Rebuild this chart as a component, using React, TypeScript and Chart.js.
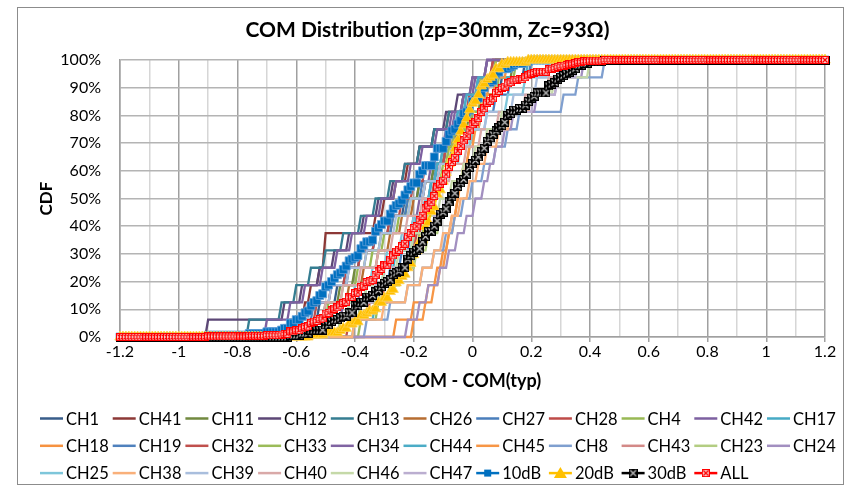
import React, { useEffect, useRef } from "react";
import { Chart, registerables } from "chart.js";

Chart.register(...registerables);

const TITLE = "COM Distribution (zp=30mm, Zc=93Ω)";
const X_TITLE = "COM - COM(typ)";
const Y_TITLE = "CDF";
const X_MIN = -1.2;
const X_MAX = 1.2;
const X_GRID_STEP = 0.01;

// ---- per-channel COM deltas (16 samples each) ----
const CH1 = [-0.6, -0.52, -0.46, -0.42, -0.38, -0.33, -0.28, -0.23, -0.18, -0.13, -0.09, -0.05, 0.0, 0.05, 0.1, 0.18];
const CH41 = [-0.62, -0.57, -0.55, -0.52, -0.5, -0.5, -0.33, -0.3, -0.26, -0.22, -0.18, -0.13, -0.08, -0.03, 0.02, 0.07];
const CH11 = [-0.56, -0.5, -0.45, -0.4, -0.36, -0.31, -0.27, -0.22, -0.18, -0.13, -0.09, -0.05, -0.01, 0.03, 0.08, 0.14];
const CH12 = [-0.9, -0.64, -0.58, -0.52, -0.47, -0.42, -0.37, -0.32, -0.27, -0.23, -0.18, -0.13, -0.09, -0.05, 0.0, 0.05];
const CH13 = [-0.76, -0.65, -0.6, -0.55, -0.5, -0.44, -0.38, -0.33, -0.28, -0.23, -0.18, -0.13, -0.08, -0.03, 0.03, 0.1];
const CH26 = [-0.54, -0.47, -0.42, -0.37, -0.32, -0.28, -0.24, -0.2, -0.16, -0.12, -0.09, -0.06, -0.03, 0.0, 0.04, 0.08];
const CH27 = [-0.62, -0.54, -0.48, -0.43, -0.38, -0.33, -0.27, -0.22, -0.17, -0.12, -0.07, -0.02, 0.03, 0.08, 0.13, 0.2];
const CH28 = [-0.58, -0.53, -0.48, -0.43, -0.38, -0.33, -0.28, -0.24, -0.2, -0.16, -0.12, -0.08, -0.04, 0.0, 0.04, 0.08];
const CH4 = [-0.55, -0.49, -0.44, -0.39, -0.34, -0.3, -0.25, -0.21, -0.16, -0.12, -0.08, -0.04, 0.0, 0.04, 0.09, 0.15];
const CH42 = [-0.7, -0.62, -0.57, -0.51, -0.46, -0.41, -0.36, -0.31, -0.26, -0.21, -0.17, -0.12, -0.07, -0.03, 0.01, 0.05];
const CH17 = [-0.5, -0.42, -0.36, -0.3, -0.26, -0.22, -0.19, -0.16, -0.14, -0.12, -0.1, -0.07, -0.05, -0.02, 0.02, 0.08];
const CH18 = [-0.26, -0.2, -0.15, -0.12, -0.1, -0.08, -0.07, -0.05, -0.04, -0.03, -0.01, 0.0, 0.02, 0.04, 0.06, 0.1];
const CH19 = [-0.45, -0.38, -0.32, -0.28, -0.24, -0.21, -0.18, -0.16, -0.14, -0.12, -0.09, -0.07, -0.04, -0.01, 0.03, 0.1];
const CH32 = [-0.42, -0.35, -0.3, -0.26, -0.22, -0.19, -0.17, -0.15, -0.13, -0.11, -0.09, -0.06, -0.04, -0.01, 0.03, 0.07];
const CH33 = [-0.38, -0.32, -0.28, -0.24, -0.21, -0.18, -0.16, -0.14, -0.12, -0.1, -0.08, -0.06, -0.03, 0.0, 0.03, 0.08];
const CH34 = [-0.55, -0.44, -0.38, -0.32, -0.27, -0.23, -0.2, -0.18, -0.16, -0.14, -0.12, -0.09, -0.06, -0.03, 0.0, 0.05];
const CH44 = [-0.4, -0.33, -0.28, -0.25, -0.22, -0.2, -0.18, -0.16, -0.14, -0.12, -0.1, -0.08, -0.05, -0.02, 0.02, 0.19];
const CH45 = [-0.2, -0.16, -0.13, -0.11, -0.09, -0.08, -0.06, -0.05, -0.04, -0.02, -0.01, 0.01, 0.03, 0.05, 0.08, 0.12];
const CH8 = [-0.36, -0.28, -0.22, -0.17, -0.13, -0.09, -0.06, -0.03, 0.0, 0.04, 0.08, 0.12, 0.16, 0.31, 0.36, 0.45];
const CH43 = [-0.5, -0.4, -0.33, -0.27, -0.21, -0.16, -0.12, -0.08, -0.05, -0.02, 0.02, 0.06, 0.11, 0.19, 0.26, 0.33];
const CH23 = [-0.45, -0.38, -0.31, -0.24, -0.19, -0.15, -0.11, -0.08, -0.05, -0.01, 0.03, 0.07, 0.12, 0.2, 0.27, 0.35];
const CH24 = [-0.22, -0.18, -0.15, -0.11, -0.08, -0.05, -0.02, 0.01, 0.04, 0.06, 0.08, 0.11, 0.14, 0.22, 0.29, 0.38];
const CH25 = [-0.55, -0.47, -0.4, -0.34, -0.29, -0.24, -0.2, -0.16, -0.12, -0.08, -0.04, 0.0, 0.05, 0.12, 0.18, 0.26];
const CH38 = [-0.4, -0.3, -0.22, -0.17, -0.13, -0.1, -0.07, -0.04, -0.01, 0.02, 0.05, 0.09, 0.13, 0.2, 0.26, 0.32];
const CH39 = [-0.62, -0.55, -0.48, -0.42, -0.36, -0.31, -0.26, -0.21, -0.16, -0.11, -0.06, -0.01, 0.05, 0.14, 0.22, 0.3];
const CH40 = [-0.58, -0.5, -0.44, -0.38, -0.32, -0.27, -0.22, -0.17, -0.12, -0.07, -0.02, 0.03, 0.09, 0.18, 0.26, 0.34];
const CH46 = [-0.5, -0.42, -0.36, -0.3, -0.25, -0.2, -0.15, -0.11, -0.07, -0.03, 0.01, 0.05, 0.1, 0.19, 0.28, 0.4];
const CH47 = [-0.48, -0.4, -0.33, -0.27, -0.22, -0.17, -0.13, -0.09, -0.05, -0.01, 0.03, 0.07, 0.12, 0.21, 0.29, 0.36];

const CHANNEL_NAMES = [
  "CH1", "CH41", "CH11", "CH12", "CH13", "CH26", "CH27", "CH28", "CH4", "CH42", "CH17",
  "CH18", "CH19", "CH32", "CH33", "CH34", "CH44", "CH45", "CH8", "CH43", "CH23", "CH24",
  "CH25", "CH38", "CH39", "CH40", "CH46", "CH47",
];
const CHANNEL_SAMPLES = [
  CH1, CH41, CH11, CH12, CH13, CH26, CH27, CH28, CH4, CH42, CH17,
  CH18, CH19, CH32, CH33, CH34, CH44, CH45, CH8, CH43, CH23, CH24,
  CH25, CH38, CH39, CH40, CH46, CH47,
];
const CHANNEL_COLORS = [
  "#385D8A", "#8C3836", "#71893F", "#5C4776", "#357D91", "#B66D31",
  "#4A7EBB", "#BE4B48", "#98B954", "#7D60A0", "#46AAC5", "#F69240",
  "#4F81BD", "#C0504D", "#9BBB59", "#8064A2", "#4BACC6", "#F79646",
  "#7F9FCF", "#D38987", "#B3CD82", "#A28FC0", "#7EC6DA", "#F9B07A",
  "#A9BEDD", "#D9A9A8", "#C5D9A8", "#BBAED0",
];

const GROUP_10DB = ["CH1", "CH41", "CH11", "CH12", "CH13", "CH26", "CH27", "CH28", "CH4", "CH42"];
const GROUP_20DB = ["CH17", "CH18", "CH19", "CH32", "CH33", "CH34", "CH44", "CH45"];
const GROUP_30DB = ["CH8", "CH43", "CH23", "CH24", "CH25", "CH38", "CH39", "CH40", "CH46", "CH47"];

const AGG_NAMES = ["10dB", "20dB", "30dB", "ALL"];
const AGG_COLORS = ["#0070C0", "#FFC000", "#000000", "#FF0000"];

const FONT = "Lato, 'Noto Sans', sans-serif";

function makeBoxMarker(size: number, fill: string, border: string, cross: string) {
  const c = document.createElement("canvas");
  c.width = size;
  c.height = size;
  const g = c.getContext("2d")!;
  g.fillStyle = fill;
  g.fillRect(0, 0, size, size);
  g.strokeStyle = border;
  g.lineWidth = 1;
  g.strokeRect(0.5, 0.5, size - 1, size - 1);
  g.strokeStyle = cross;
  g.lineWidth = 1.2;
  g.beginPath();
  g.moveTo(1.5, 1.5);
  g.lineTo(size - 1.5, size - 1.5);
  g.moveTo(size - 1.5, 1.5);
  g.lineTo(1.5, size - 1.5);
  g.stroke();
  return c;
}

export default function App() {
  const ref = useRef<HTMLCanvasElement | null>(null);

  useEffect(() => {
    document.body.style.margin = "0";
    const canvas = ref.current;
    if (!canvas) return;

    const xs: number[] = [];
    const nSteps = Math.round((X_MAX - X_MIN) / X_GRID_STEP);
    for (let k = 0; k <= nSteps; k++) xs.push(Math.round((X_MIN + k * X_GRID_STEP) * 100) / 100);

    const cdf = (samples: number[]) =>
      xs.map((x) => ({ x, y: samples.filter((s) => s <= x + 1e-9).length / samples.length }));
    const pool = (names: string[]) =>
      names.flatMap((n) => CHANNEL_SAMPLES[CHANNEL_NAMES.indexOf(n)]);

    const m30 = makeBoxMarker(9, "#000000", "#000000", "#C8C8C8");
    const mAll = makeBoxMarker(8, "#F9CACA", "#FF0000", "#FF0000");

    const aggSamples = [pool(GROUP_10DB), pool(GROUP_20DB), pool(GROUP_30DB), CHANNEL_SAMPLES.flat()];
    const aggStyles: any[] = [
      { pointStyle: "rect", pointRadius: 5.6, pointBackgroundColor: "#0070C0", pointBorderColor: "#62A0D8", pointBorderWidth: 0.8 },
      { pointStyle: "triangle", pointRadius: 6, pointBackgroundColor: "#FFC000", pointBorderColor: "#FFD24D", pointBorderWidth: 0.8 },
      { pointStyle: m30, pointRadius: 4.5 },
      { pointStyle: mAll, pointRadius: 4 },
    ];

    const datasets: any[] = [];
    CHANNEL_NAMES.forEach((name, i) => {
      datasets.push({
        label: name,
        data: cdf(CHANNEL_SAMPLES[i]),
        borderColor: CHANNEL_COLORS[i],
        backgroundColor: CHANNEL_COLORS[i],
        borderWidth: 2.3,
        pointRadius: 0,
        showLine: true,
        fill: false,
        tension: 0,
        clip: false,
      });
    });
    AGG_NAMES.forEach((name, i) => {
      datasets.push({
        label: name,
        data: cdf(aggSamples[i]),
        borderColor: AGG_COLORS[i],
        backgroundColor: AGG_COLORS[i],
        borderWidth: 2,
        showLine: true,
        fill: false,
        tension: 0,
        clip: false,
        ...aggStyles[i],
      });
    });
    const N = datasets.length;
    datasets.forEach((d, i) => (d.order = N - 1 - i));

    const legendItems = [
      ...CHANNEL_NAMES.map((n, i) => ({ name: n, color: CHANNEL_COLORS[i], marker: -1 })),
      ...AGG_NAMES.map((n, i) => ({ name: n, color: AGG_COLORS[i], marker: i })),
    ];

    const framePlugin = {
      id: "frame",
      beforeDraw(chart: any) {
        const ctx = chart.ctx;
        ctx.save();
        ctx.fillStyle = "#FFFFFF";
        ctx.fillRect(0, 0, chart.width, chart.height);
        ctx.strokeStyle = "#8C8C8C";
        ctx.lineWidth = 1;
        ctx.strokeRect(17.5, 7.5, 826, 477);
        ctx.restore();
      },
    };

    const legendPlugin = {
      id: "gridLegend",
      afterDraw(chart: any) {
        const ctx = chart.ctx;
        ctx.save();
        legendItems.forEach((item, i) => {
          const row = Math.floor(i / 11);
          const col = i % 11;
          const x = 40 + col * 72.7;
          const y = 418.5 + row * 27.3;
          ctx.strokeStyle = item.color;
          ctx.lineWidth = 2.5;
          ctx.beginPath();
          ctx.moveTo(x, y);
          ctx.lineTo(x + 23, y);
          ctx.stroke();
          const cx = x + 11.5;
          if (item.marker === 0) {
            ctx.fillStyle = "#0070C0";
            ctx.fillRect(cx - 3.5, y - 3.5, 7, 7);
          } else if (item.marker === 1) {
            ctx.fillStyle = "#FFC000";
            ctx.beginPath();
            ctx.moveTo(cx, y - 6);
            ctx.lineTo(cx + 6.5, y + 5);
            ctx.lineTo(cx - 6.5, y + 5);
            ctx.closePath();
            ctx.fill();
          } else if (item.marker === 2) {
            ctx.drawImage(m30, cx - 4.5, y - 4.5);
          } else if (item.marker === 3) {
            ctx.drawImage(mAll, cx - 4, y - 4);
          }
          ctx.fillStyle = "#000000";
          ctx.font = `16.5px ${FONT}`;
          ctx.textBaseline = "middle";
          ctx.textAlign = "left";
          ctx.fillText(item.name, x + 26, y + 1);
        });
        ctx.restore();
      },
    };

    const isMajor = (v: number) => Math.abs(Math.round(v * 10)) % 2 === 0;

    const chart = new Chart(canvas, {
      type: "scatter",
      data: { datasets },
      plugins: [framePlugin, legendPlugin],
      options: {
        animation: false,
        responsive: false,
        maintainAspectRatio: false,
        layout: { padding: { left: 30, right: 31, top: 10, bottom: 95 } },
        plugins: {
          legend: { display: false },
          tooltip: { enabled: false },
          title: {
            display: true,
            text: TITLE,
            color: "#000000",
            font: { family: FONT, size: 21, weight: "bold" },
            padding: { top: 8, bottom: 16.8 },
          },
        },
        scales: {
          x: {
            type: "linear",
            min: X_MIN,
            max: X_MAX,
            afterFit: (s: any) => {
              s.height = 57;
            },
            ticks: {
              stepSize: 0.1,
              autoSkip: false,
              maxRotation: 0,
              padding: 0,
              color: "#000000",
              font: { family: FONT, size: 16 },
              callback: (v: any) => {
                const t = Math.round(Number(v) * 10);
                return t % 2 === 0 ? String(t / 10) : "";
              },
            },
            grid: {
              color: (c: any) => (isMajor(c.tick ? c.tick.value : 0) ? "#A0A0A0" : "#D6D6D6"),
              tickColor: (c: any) => (isMajor(c.tick ? c.tick.value : 0) ? "#A0A0A0" : "rgba(0,0,0,0)"),
              lineWidth: 1.5,
              tickLength: 5,
            },
            border: { display: true, color: "#A0A0A0", width: 1.5 },
            title: {
              display: true,
              text: X_TITLE,
              color: "#000000",
              font: { family: FONT, size: 18, weight: "bold" },
              padding: { top: 0, bottom: 2.2 },
            },
          },
          y: {
            type: "linear",
            min: 0,
            max: 1,
            afterFit: (s: any) => {
              s.width = 90;
            },
            ticks: {
              stepSize: 0.1,
              padding: 19,
              color: "#000000",
              font: { family: FONT, size: 16 },
              callback: (v: any) => `${Math.round(Number(v) * 100)}%`,
            },
            grid: { color: "#B4B4B4", lineWidth: 1.5, drawTicks: false },
            border: { display: true, color: "#A0A0A0", width: 1.5 },
            title: {
              display: true,
              text: Y_TITLE,
              color: "#000000",
              font: { family: FONT, size: 17, weight: "bold" },
              padding: { top: 6.8, bottom: 0 },
            },
          },
        },
      } as any,
    });

    return () => chart.destroy();
  }, []);

  return (
    <div style={{ width: 856, height: 489 }}>
      <canvas ref={ref} width={856} height={489} style={{ display: "block", width: 856, height: 489 }} />
    </div>
  );
}
